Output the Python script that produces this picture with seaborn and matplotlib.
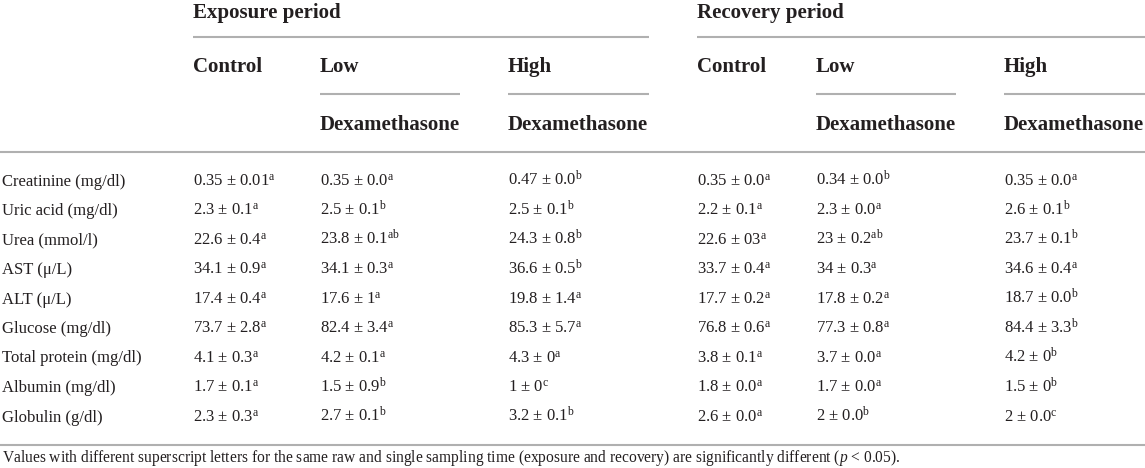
import numpy as np
import pandas as pd
import matplotlib
matplotlib.use("Agg")
import matplotlib.pyplot as plt
import seaborn as sns

# Table content
params = ['Creatinine (mg/dl)', 'Uric acid (mg/dl)', 'Urea (mmol/l)', 'AST (μ/L)', 'ALT (μ/L)',
          'Glucose (mg/dl)', 'Total protein (mg/dl)', 'Albumin (mg/dl)', 'Globulin (g/dl)']

exp_control = ['0.35 ± 0.01', '2.3 ± 0.1', '22.6 ± 0.4', '34.1 ± 0.9', '17.4 ± 0.4',
               '73.7 ± 2.8', '4.1 ± 0.3', '1.7 ± 0.1', '2.3 ± 0.3']
exp_control_sup = ['a', 'a', 'a', 'a', 'a', 'a', 'a', 'a', 'a']
exp_low = ['0.35 ± 0.0', '2.5 ± 0.1', '23.8 ± 0.1', '34.1 ± 0.3', '17.6 ± 1',
           '82.4 ± 3.4', '4.2 ± 0.1', '1.5 ± 0.9', '2.7 ± 0.1']
exp_low_sup = ['a', 'b', 'ab', 'a', 'a', 'a', 'a', 'b', 'b']
exp_high = ['0.47 ± 0.0', '2.5 ± 0.1', '24.3 ± 0.8', '36.6 ± 0.5', '19.8 ± 1.4',
            '85.3 ± 5.7', '4.3 ± 0', '1 ± 0', '3.2 ± 0.1']
exp_high_sup = ['b', 'b', 'b', 'b', 'a', 'a', 'a', 'c', 'b']

rec_control = ['0.35 ± 0.0', '2.2 ± 0.1', '22.6 ± 03', '33.7 ± 0.4', '17.7 ± 0.2',
               '76.8 ± 0.6', '3.8 ± 0.1', '1.8 ± 0.0', '2.6 ± 0.0']
rec_control_sup = ['a', 'a', 'a', 'a', 'a', 'a', 'a', 'a', 'a']
rec_low = ['0.34 ± 0.0', '2.3 ± 0.0', '23 ± 0.2', '34 ± 0.3', '17.8 ± 0.2',
           '77.3 ± 0.8', '3.7 ± 0.0', '1.7 ± 0.0', '2 ± 0.0']
rec_low_sup = ['b', 'a', 'ab', 'a', 'a', 'a', 'a', 'a', 'b']
rec_high = ['0.35 ± 0.0', '2.6 ± 0.1', '23.7 ± 0.1', '34.6 ± 0.4', '18.7 ± 0.0',
            '84.4 ± 3.3', '4.2 ± 0', '1.5 ± 0', '2 ± 0.0']
rec_high_sup = ['a', 'b', 'b', 'a', 'b', 'b', 'b', 'b', 'c']

periods = ['Exposure period', 'Recovery period']
groups = ['Control', 'Low', 'High']
footnote = ('Values with different superscript letters for the same raw and single sampling time '
            '(exposure and recovery) are significantly different ($p$ < 0.05).')

columns = [(exp_control, exp_control_sup), (exp_low, exp_low_sup), (exp_high, exp_high_sup),
           (rec_control, rec_control_sup), (rec_low, rec_low_sup), (rec_high, rec_high_sup)]

sns.set_theme(style='white')
plt.rcParams['font.family'] = ['Liberation Serif', 'DejaVu Serif']
plt.rcParams['mathtext.fontset'] = 'custom'
plt.rcParams['mathtext.rm'] = 'Liberation Serif'
plt.rcParams['mathtext.it'] = 'Liberation Serif:italic'

ink = '#231f20'
rule = '#b0b0b0'

fig = plt.figure(figsize=(11.45, 4.68), dpi=100)
ax = fig.add_axes([0, 0, 1, 1])
ax.set_xlim(0, 1145)
ax.set_ylim(468, 0)
ax.axis('off')

# layout
col_x = [193, 320, 508, 697, 816, 1004]
period_x = [(193, 649), (697, 1145)]
row_y = 185.5 + 29.5 * np.arange(len(params))  # baselines

# header
for (x0, x1), name in zip(period_x, periods):
    ax.text(x0, 13, name, fontsize=15, fontweight='bold', color=ink, va='center')
    ax.hlines(37, x0, x1, color=rule, lw=1.5)
for k in range(2):
    for j, g in enumerate(groups):
        x = col_x[3 * k + j]
        ax.text(x, 67, g, fontsize=15, fontweight='bold', color=ink, va='center')
        if g != 'Control':
            x_end = col_x[3 * k + j + 1] - 48 if j == 1 else period_x[k][1]
            ax.hlines(94, x, x_end, color=rule, lw=1.5)
            ax.text(x, 125, 'Dexamethasone', fontsize=15, fontweight='bold', color=ink, va='center')

ax.hlines(152, 0, 1145, color=rule, lw=1.5)

# body
for i, p in enumerate(params):
    ax.text(2, row_y[i], p, fontsize=12, color=ink, va='baseline')
    for x, (vals, sups) in zip(col_x, columns):
        ax.text(x, row_y[i], vals[i] + '$^{\\mathrm{' + sups[i] + '}}$',
                fontsize=12, color=ink, va='baseline')

ax.hlines(445, 0, 1145, color=rule, lw=1.5)
ax.text(2, 458, footnote, fontsize=11.2, color=ink, va='center')

fig.savefig('out.png', dpi=100, facecolor='white')
